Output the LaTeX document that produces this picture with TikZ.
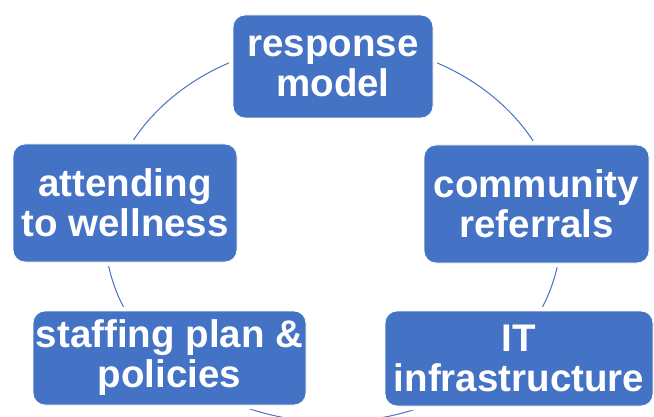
\documentclass[tikz,border=0pt]{standalone}
\usepackage{fontspec}
\setmainfont{Liberation Sans}[Ligatures=NoCommon]
\definecolor{officeblue}{HTML}{4472C4}
\begin{document}
\begin{tikzpicture}[x=1pt, y=-1pt,
  stagebox/.style={rounded corners=12pt, fill=officeblue, draw=white, line width=0.8pt,
    preaction={draw=white, line width=8pt},
    text=white, font=\bfseries\fontsize{38.5}{40}\selectfont,
    align=center, inner sep=0pt},
  ring/.style={draw=officeblue, line width=1pt}]
  \useasboundingbox (0,0) rectangle (654,417);

  % the cycle ring behind the stages
  \coordinate (hub) at (333,232);
  \draw[ring] (hub) ellipse [x radius=228pt, y radius=190pt];

  % the five stages
  \node[stagebox, minimum width=200pt, minimum height=103pt] (resp) at (333,66.5) {response\\model};
  \node[stagebox, minimum width=225pt, minimum height=118pt] (comm) at (536.5,204) {community\\referrals};
  \node[stagebox, minimum width=268pt, minimum height=95pt] (it) at (519,358.5) {IT\\infrastructure};
  \node[stagebox, minimum width=273pt, minimum height=94pt] (staff) at (169.5,358) {staffing plan \&\\policies};
  \node[stagebox, minimum width=224pt, minimum height=118pt] (well) at (125,203) {attending\\to wellness};
\end{tikzpicture}
\end{document}
